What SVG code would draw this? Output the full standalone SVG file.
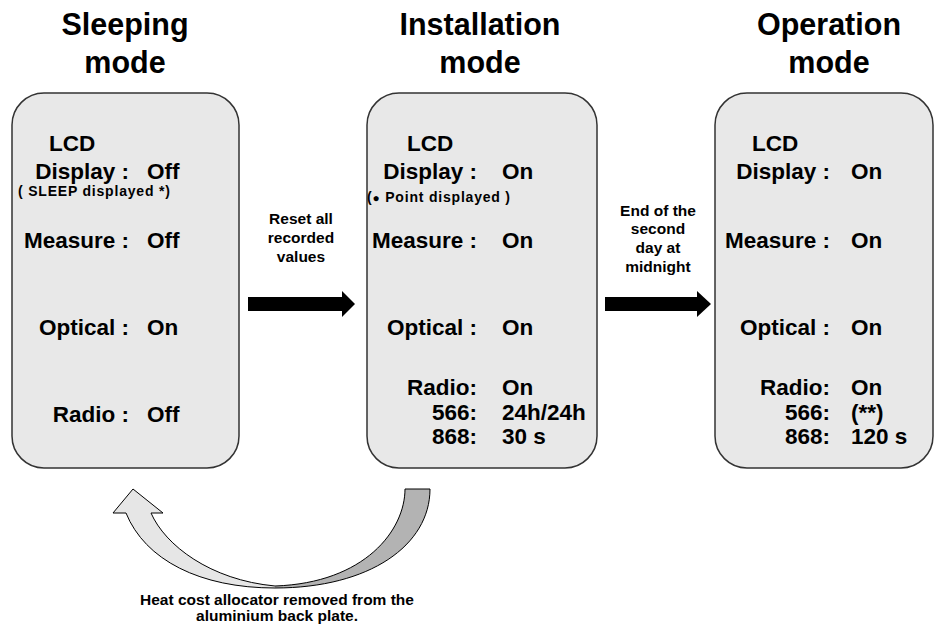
<svg xmlns="http://www.w3.org/2000/svg" width="935" height="635" viewBox="0 0 935 635">
<style>
text{font-family:"Liberation Sans",Arial,sans-serif;font-weight:bold;fill:#000}
.title{font-size:30.5px;text-anchor:middle}
.lbl{font-size:22.5px;text-anchor:end}
.val{font-size:22.5px}
.lcd{font-size:22.5px}
.note{font-size:14px;letter-spacing:0.8px}
.al{font-size:15.5px;text-anchor:middle}
.bl{font-size:15.5px;text-anchor:middle}
.box{fill:#e8e8e8;stroke:#333;stroke-width:1.5}
.arr{fill:#000}
</style>
<rect width="935" height="635" fill="#fff"/>
<g id="sleeping">
<text class="title" x="125" y="35">Sleeping</text>
<text class="title" x="125" y="73">mode</text>
<rect class="box" x="12" y="93" width="227" height="375" rx="32"/>
<text class="lcd" x="49" y="151">LCD</text>
<text class="lbl" x="129" y="179">Display :</text><text class="val" x="147" y="179">Off</text>
<text class="note" x="18" y="196">( SLEEP displayed *)</text>
<text class="lbl" x="129" y="248">Measure :</text><text class="val" x="147" y="248">Off</text>
<text class="lbl" x="129" y="335">Optical :</text><text class="val" x="147" y="335">On</text>
<text class="lbl" x="129" y="422">Radio :</text><text class="val" x="147" y="422">Off</text>
</g>
<g id="installation">
<text class="title" x="480" y="35">Installation</text>
<text class="title" x="480" y="73">mode</text>
<rect class="box" x="367" y="93" width="230" height="375" rx="32"/>
<text class="lcd" x="407" y="151">LCD</text>
<text class="lbl" x="477" y="179">Display :</text><text class="val" x="502" y="179">On</text>
<text class="note" x="367" y="202">(<tspan font-size="12">●</tspan> Point displayed )</text>
<text class="lbl" x="477" y="248">Measure :</text><text class="val" x="502" y="248">On</text>
<text class="lbl" x="477" y="335">Optical :</text><text class="val" x="502" y="335">On</text>
<text class="lbl" x="477" y="395">Radio:</text><text class="val" x="502" y="395">On</text>
<text class="lbl" x="477" y="420">566:</text><text class="val" x="502" y="420">24h/24h</text>
<text class="lbl" x="477" y="444">868:</text><text class="val" x="502" y="444">30 s</text>
</g>
<g id="operation">
<text class="title" x="829" y="35">Operation</text>
<text class="title" x="829" y="73">mode</text>
<rect class="box" x="715" y="93" width="218" height="375" rx="32"/>
<text class="lcd" x="752" y="151">LCD</text>
<text class="lbl" x="830" y="179">Display :</text><text class="val" x="851" y="179">On</text>
<text class="lbl" x="830" y="248">Measure :</text><text class="val" x="851" y="248">On</text>
<text class="lbl" x="830" y="335">Optical :</text><text class="val" x="851" y="335">On</text>
<text class="lbl" x="830" y="395">Radio:</text><text class="val" x="851" y="395">On</text>
<text class="lbl" x="830" y="420">566:</text><text class="val" x="851" y="420">(**)</text>
<text class="lbl" x="830" y="444">868:</text><text class="val" x="851" y="444">120 s</text>
</g>
<g id="connectors">
<g id="reset">
<rect class="arr" x="248" y="297" width="95" height="14"/>
<polygon class="arr" points="342,291 355,304 342,317"/>
<text class="al" x="301" y="224">Reset all</text>
<text class="al" x="301" y="243">recorded</text>
<text class="al" x="301" y="262">values</text>
</g>
<g id="midnight">
<rect class="arr" x="605" y="297" width="93" height="14"/>
<polygon class="arr" points="697,291 711,304 697,317"/>
<text class="al" x="658" y="216">End of the</text>
<text class="al" x="658" y="234">second</text>
<text class="al" x="658" y="253">day at</text>
<text class="al" x="658" y="272">midnight</text>
</g>
<g id="removed">
<path d="M275,588 C200,588 145,560 126,513 L113,513 L133,489 L163,513 L151,513 C165,545 210,580 275,586 Z" fill="#e6e6e6"/>
<path d="M430,489 C430,545 370,588 275,588 L275,586 C365,583 405,530 405,489 Z" fill="#b3b3b3"/>
<path d="M430,489 C430,545 370,588 275,588 C200,588 145,560 126,513 L113,513 L133,489 L163,513 L151,513 C165,545 210,580 275,586 C365,583 405,530 405,489 Z" fill="none" stroke="#000" stroke-width="1"/>
<text class="bl" x="277" y="605">Heat cost allocator removed from the</text>
<text class="bl" x="277" y="621">aluminium back plate.</text>
</g>
</g>
</svg>
